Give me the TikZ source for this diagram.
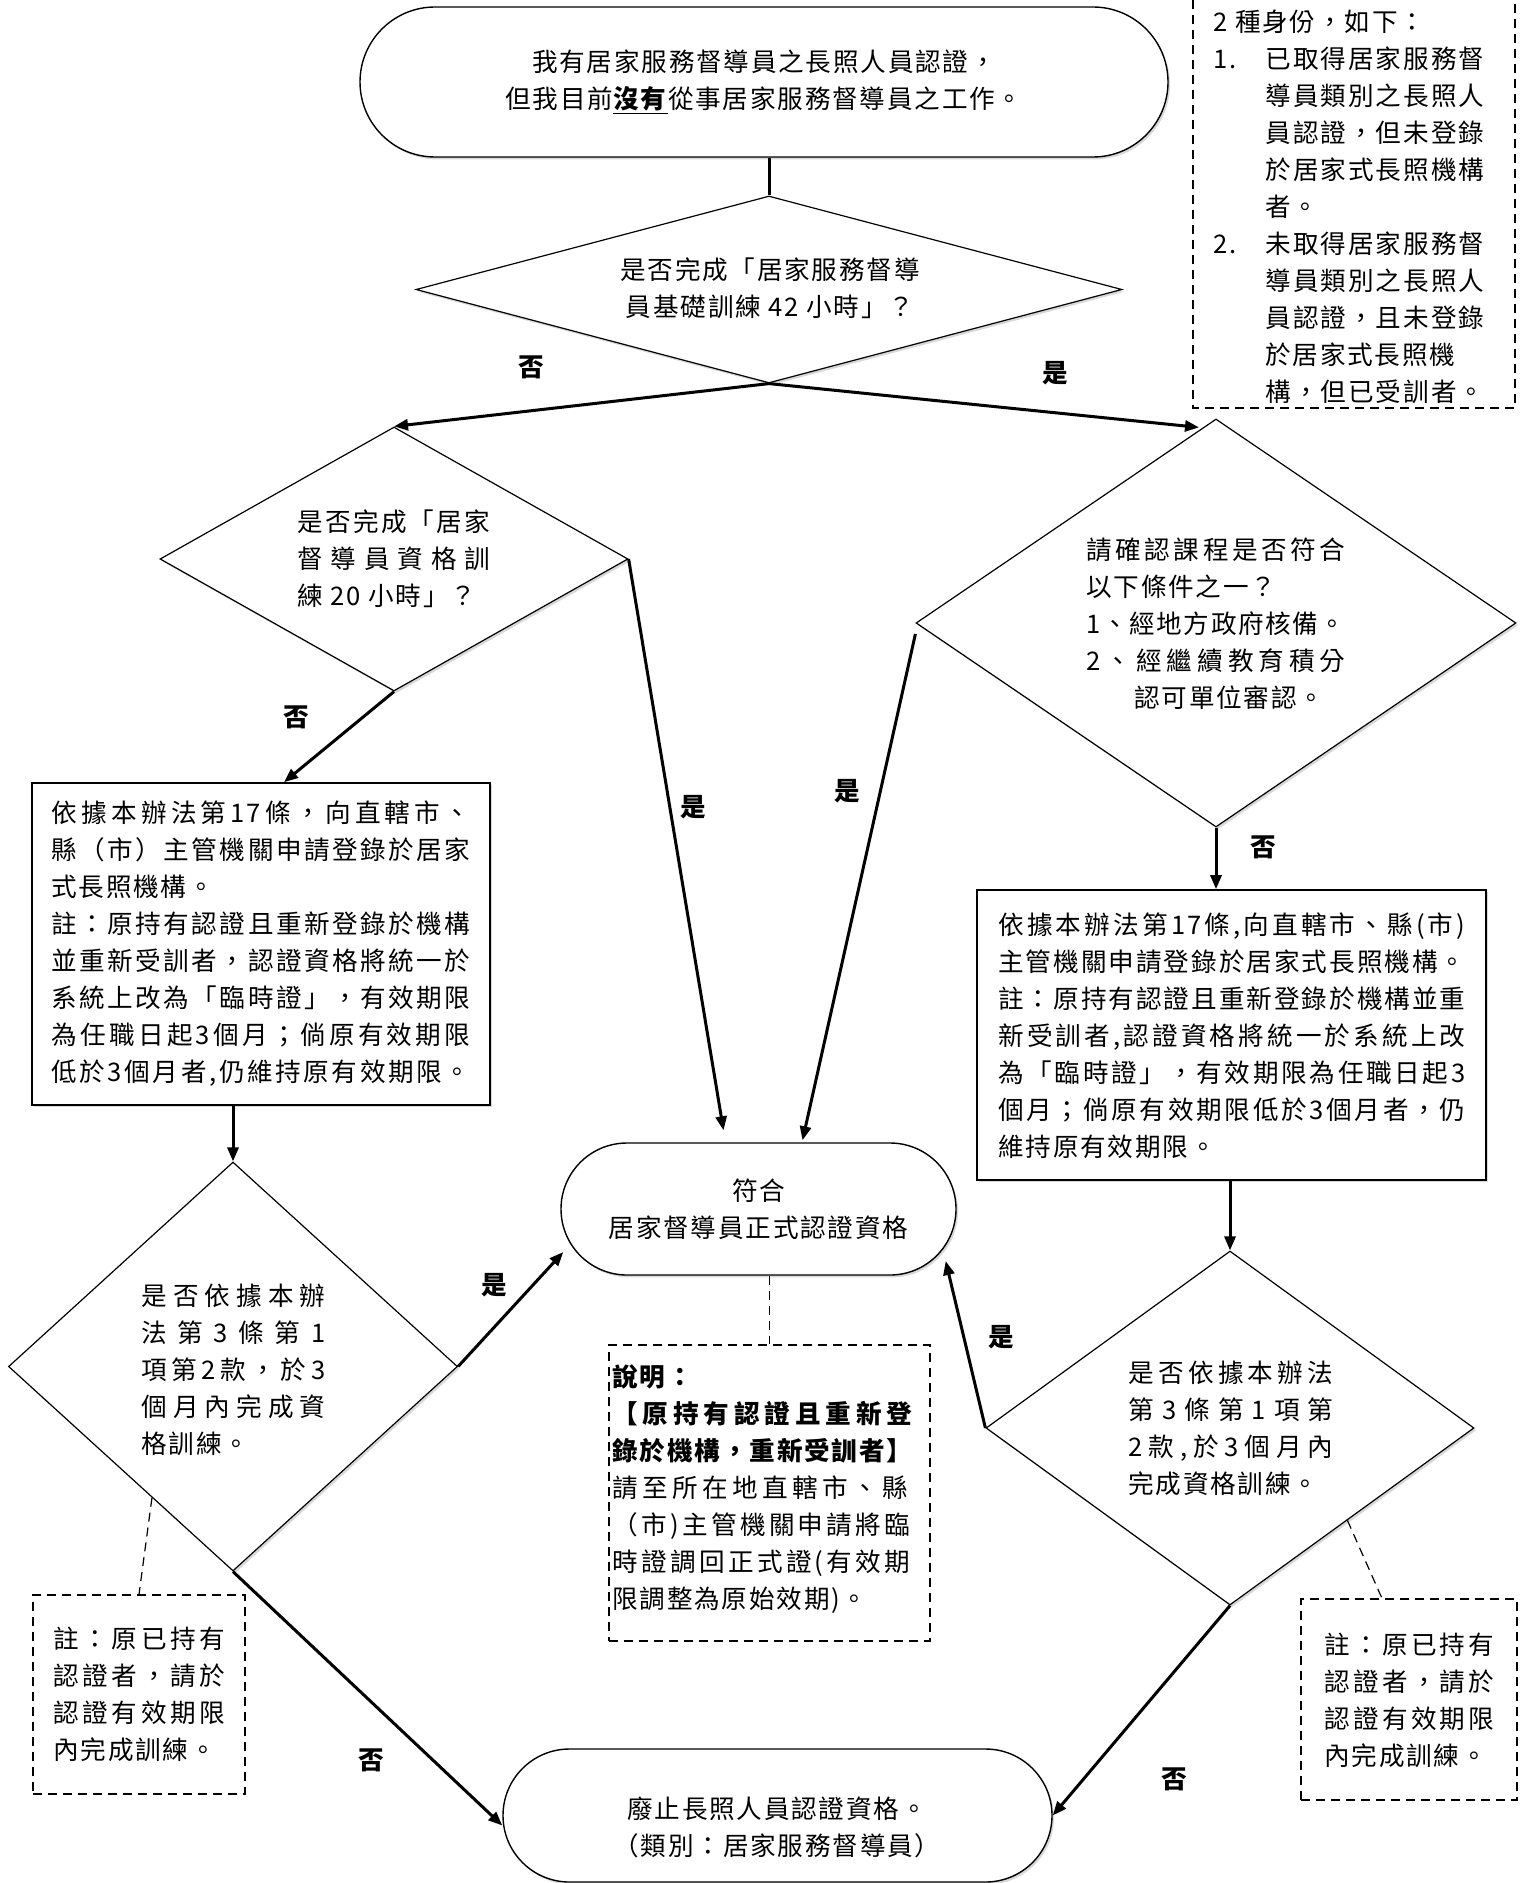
\documentclass[tikz,border=0pt]{standalone}
\usepackage{fontspec}
\setmainfont{Noto Sans CJK TC}[LetterSpace=7]
\usetikzlibrary{shapes.geometric,shapes.misc,arrows.meta,calc,shadows}
\newdimen\px \px=0.5pt
\def\jlfirst#1{#1\jlrest}
\def\jlrest#1{\ifx\relax#1\else\hfil#1\expandafter\jlrest\fi}
\newcommand\jl[2]{\hbox to #1{\jlfirst#2\relax}}
\newcommand\ind{\hbox to 26pt{}}
\begin{document}
\begin{tikzpicture}[x=0.5pt,y=-0.5pt,
  font=\fontsize{12.8pt}{18.5pt}\selectfont,
  shp/.style={draw,fill=white,inner sep=0pt,line width=0.6pt,
     drop shadow={shadow xshift=1pt,shadow yshift=-1.2pt,opacity=0.3}},
  dia/.style={shp,diamond},
  ov/.style={shp,rounded rectangle,align=center,line width=0.7pt},
  bx/.style={shp,rectangle,line width=0.8pt},
  dbx/.style={draw,rectangle,inner sep=0pt,line width=0.6pt,dash pattern=on 4.5pt off 3pt},
  txt/.style={inner sep=0pt,align=left,anchor=west},
  arr/.style={line width=1.5pt,-{Triangle[length=7pt,width=5.5pt]}},
  dln/.style={line width=0.6pt,dash pattern=on 4.5pt off 3pt},
  lbl/.style={inner sep=0pt,font=\fontsize{12.8pt}{14pt}\selectfont\bfseries}]
\fill[white] (0,0) rectangle (1522,1883);
\useasboundingbox (0,0) rectangle (1522,1883);

% top oval
\node[ov,minimum width=404pt,minimum height=75pt] (o1) at (764,82)
  {我有居家服務督導員之長照人員認證，\\但我目前\underline{\textbf{沒有}}從事居家服務督導員之工作。};

% diamond 1
\node[dia,minimum width=353pt,minimum height=93.5pt] (d1) at (769,289.5) {};
\node[inner sep=0pt,align=center] (d1t) at (770,288.5) {是否完成「居家服務督導\\員基礎訓練 42 小時」？};

% diamond 2
\node[dia,minimum width=234pt,minimum height=132pt] (d2) at (394,559) {};
\node[txt] (d2t) at (297,558.5) {\jl{193\px}{是否完成「居家}\\\jl{193\px}{督導員資格訓}\\練 20 小時」？};

% diamond 3
\node[dia,minimum width=300pt,minimum height=204pt] (d3) at (1216,623) {};
\node[txt] (d3t) at (1086,624) {\jl{259\px}{請確認課程是否符合}\\以下條件之一？\\\jl{259\px}{1、經地方政府核備。}\\\jl{259\px}{2、經繼續教育積分}\\\hbox to 24pt{}認可單位審認。};

% box A
\node[bx,minimum width=229pt,minimum height=161pt] (bA) at (261,944) {};
\node[txt] (bAt) at (51,944) {\jl{419\px}{依據本辦法第{17}條，向直轄市、}\\
\jl{419\px}{縣（市）主管機關申請登錄於居家}\\
式長照機構。\\
\jl{419\px}{註：原持有認證且重新登錄於機構}\\
\jl{419\px}{並重新受訓者，認證資格將統一於}\\
\jl{419\px}{系統上改為「臨時證」，有效期限}\\
\jl{419\px}{為任職日起3個月；倘原有效期限}\\
\jl{419\px}{低於3個月者,仍維持原有效期限。}};

% box B
\node[bx,minimum width=254.5pt,minimum height=145pt] (bB) at (1231.5,1035) {};
\node[txt] (bBt) at (998,1035.5) {\jl{467\px}{依據本辦法第{17}條,向直轄市、縣(市)}\\
\jl{467\px}{主管機關申請登錄於居家式長照機構。}\\
\jl{467\px}{註：原持有認證且重新登錄於機構並重}\\
\jl{467\px}{新受訓者,認證資格將統一於系統上改}\\
\jl{467\px}{為「臨時證」，有效期限為任職日起3}\\
\jl{467\px}{個月；倘原有效期限低於3個月者，仍}\\
維持原有效期限。};

% center oval
\node[ov,minimum width=197.5pt,minimum height=66pt] (o2) at (758.5,1209) {符合\\居家督導員正式認證資格};

% diamond 4
\node[dia,minimum width=224.5pt,minimum height=204.5pt] (d4) at (233,1366.5) {};
\node[txt] (d4t) at (141,1369.5) {\jl{184\px}{是否依據本辦}\\\jl{184\px}{法第3條第1}\\\jl{184\px}{項第2款，於3}\\\jl{184\px}{個月內完成資}\\格訓練。};

% diamond 5
\node[dia,minimum width=244pt,minimum height=177pt] (d5) at (1230,1428) {};
\node[txt] (d5t) at (1128,1428.5) {\jl{205\px}{是否依據本辦法}\\\jl{205\px}{第3條第1項第}\\\jl{205\px}{2款,於3個月內}\\完成資格訓練。};

% dashed boxes
\node[dbx,minimum width=106pt,minimum height=99.5pt] (bC) at (139,1694.5) {};
\node[txt] (bCt) at (53,1694.5) {\jl{172\px}{註：原已持有}\\\jl{172\px}{認證者，請於}\\\jl{172\px}{認證有效期限}\\內完成訓練。};

\node[dbx,minimum width=160.5pt,minimum height=148pt] (bD) at (769.5,1493) {};
\node[txt] (bDt) at (612,1489) {\textbf{說明：}\\
\textbf{\jl{300\px}{【原持有認證且重新登}}\\
\textbf{\jl{300\px}{錄於機構，重新受訓者】}}\\
\jl{296\px}{請至所在地直轄市、縣}\\
\jl{298\px}{（市)主管機關申請將臨}\\
\jl{298\px}{時證調回正式證(有效期}\\
限調整為原始效期)。};

\node[dbx,minimum width=108pt,minimum height=100.5pt] (bE) at (1409,1699.5) {};
\node[txt] (bEt) at (1324,1700.5) {\jl{170\px}{註：原已持有}\\\jl{170\px}{認證者，請於}\\\jl{170\px}{認證有效期限}\\內完成訓練。};

% bottom oval
\node[ov,minimum width=274.5pt,minimum height=66.5pt] (o3) at (777.5,1815.5) {};
\node[inner sep=0pt,align=center] (o3t) at (777,1827.5) {廢止長照人員認證資格。\\（類別：居家服務督導員）};

% top right open dashed box
\draw[dln] (1193,0) -- (1193,408) -- (1515,408) -- (1515,0);
\node[txt] (Ft) at (1213,207) {2 種身份，如下：\\
\makebox[26pt][l]{1.}\jl{219\px}{已取得居家服務督}\\
\ind\jl{219\px}{導員類別之長照人}\\
\ind\jl{219\px}{員認證，但未登錄}\\
\ind\jl{219\px}{於居家式長照機構}\\
\ind 者。\\
\makebox[26pt][l]{2.}\jl{219\px}{未取得居家服務督}\\
\ind\jl{219\px}{導員類別之長照人}\\
\ind\jl{219\px}{員認證，且未登錄}\\
\ind 於居家式長照機\\
\ind\jl{219\px}{構，但已受訓者。}};

% connectors
\draw[line width=1.5pt] (d1.north |- o1.south) -- (d1.north);
\draw[arr] (d1.south) -- (d2.north);
\draw[arr] (d1.south) -- ($(d3.north)+(-17,9)$);
\draw[arr] (d2.south) -- ($(bA.north)+(23,0)$);
\draw[arr] (d2.east) -- ($(o2.north)+(-35,-12)$);
\draw[arr] ($(d3.west)+(0,11)$) -- ($(o2.north)+(44,-2)$);
\draw[arr] (d3.south) -- (d3.south |- bB.north);
\draw[arr] (d4.north |- bA.south) -- (d4.north);
\draw[arr] (d5.north |- bB.south) -- (d5.north);
\draw[arr] (d4.east) -- ($(o2.west)+(3,43)$);
\draw[arr] (d4.south) -- ($(o3.west)+(0,10)$);
\draw[arr] (d5.west) -- ($(o2.east)+(-11,52)$);
\draw[arr] (d5.south) -- (o3.east);
\draw[dln] (bD.north |- o2.south) -- (bD.north);
\draw[dln] ($(d4.west)!0.64!(d4.south)$) -- (bC.north);
\draw[dln] ($(d5.south)!0.48!(d5.east)$) -- ($(bE.north)+(-27,0)$);

% labels
\node[lbl] (l1) at (531,367) {否};
\node[lbl] (l2) at (1055,373) {是};
\node[lbl] (l3) at (296,717) {否};
\node[lbl] (l4) at (693,807) {是};
\node[lbl] (l5) at (847,791) {是};
\node[lbl] (l6) at (1263,847) {否};
\node[lbl] (l7) at (494,1285) {是};
\node[lbl] (l8) at (371,1760) {否};
\node[lbl] (l9) at (1001,1337) {是};
\node[lbl] (l10) at (1174,1779) {否};
\end{tikzpicture}
\end{document}
